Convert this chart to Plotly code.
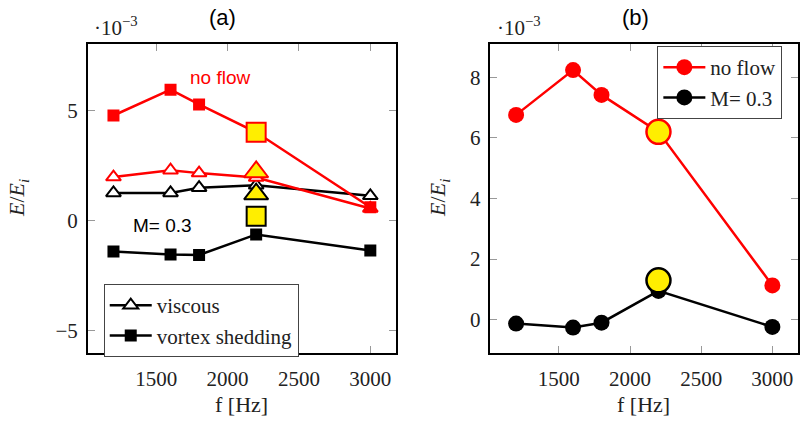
import plotly.graph_objects as go

# Frequencies of the measurements [Hz]
freqs = [1200, 1600, 1800, 2200, 3000]

# Panel (a): normalised energy split into viscous and vortex-shedding parts (x 1e-3)
noflow_vortex = [4.76, 5.93, 5.26, 4.0, 0.6]
noflow_viscous = [1.97, 2.28, 2.15, 1.95, 0.55]
m03_viscous = [1.25, 1.25, 1.49, 1.6, 1.12]
m03_vortex = [-1.4, -1.54, -1.56, -0.63, -1.36]

# Highlighted 2200 Hz values in panel (a)
hl_freq = [2200]
hl_noflow_vortex = [4.0]
hl_noflow_viscous = [2.2]
hl_m03_viscous = [1.2]
hl_m03_vortex = [0.2]

# Panel (b): total normalised energy (x 1e-3)
noflow_total = [6.76, 8.24, 7.42, 6.2, 1.13]
m03_total = [-0.13, -0.26, -0.1, 0.95, -0.24]
hl_noflow_total = [6.2]
hl_m03_total = [1.3]

xticks = [1500, 2000, 2500, 3000]
yticks_a = [-5, 0, 5]
yticks_b = [0, 2, 4, 6, 8]

RED = "#ff0000"
BLACK = "#000000"
YELLOW = "#ffee00"
SERIF = "Liberation Serif"
SANS = "Liberation Sans"

fig = go.Figure()

# ---- panel (a) ----
fig.add_trace(go.Scatter(x=freqs, y=m03_viscous, mode="lines+markers", name="viscous",
                         line=dict(color=BLACK, width=2.5),
                         marker=dict(symbol="triangle-up", size=13, color="white",
                                     line=dict(color=BLACK, width=2)),
                         xaxis="x", yaxis="y", legend="legend"))
fig.add_trace(go.Scatter(x=freqs, y=m03_vortex, mode="lines+markers", name="vortex shedding",
                         line=dict(color=BLACK, width=2.5),
                         marker=dict(symbol="square", size=12, color=BLACK),
                         xaxis="x", yaxis="y", legend="legend"))
fig.add_trace(go.Scatter(x=freqs, y=noflow_viscous, mode="lines+markers", showlegend=False,
                         line=dict(color=RED, width=2.5),
                         marker=dict(symbol="triangle-up", size=13, color="white",
                                     line=dict(color=RED, width=2)),
                         xaxis="x", yaxis="y"))
fig.add_trace(go.Scatter(x=freqs, y=noflow_vortex, mode="lines+markers", showlegend=False,
                         line=dict(color=RED, width=2.5),
                         marker=dict(symbol="square", size=12, color=RED),
                         xaxis="x", yaxis="y"))
# highlighted points
fig.add_trace(go.Scatter(x=hl_freq, y=hl_noflow_vortex, mode="markers", showlegend=False,
                         marker=dict(symbol="square", size=19, color=YELLOW,
                                     line=dict(color=RED, width=2)),
                         xaxis="x", yaxis="y"))
fig.add_trace(go.Scatter(x=hl_freq, y=hl_noflow_viscous, mode="markers", showlegend=False,
                         marker=dict(symbol="triangle-up", size=21, color=YELLOW,
                                     line=dict(color=RED, width=2)),
                         xaxis="x", yaxis="y"))
fig.add_trace(go.Scatter(x=hl_freq, y=hl_m03_viscous, mode="markers", showlegend=False,
                         marker=dict(symbol="triangle-up", size=21, color=YELLOW,
                                     line=dict(color=BLACK, width=2)),
                         xaxis="x", yaxis="y"))
fig.add_trace(go.Scatter(x=hl_freq, y=hl_m03_vortex, mode="markers", showlegend=False,
                         marker=dict(symbol="square", size=19, color=YELLOW,
                                     line=dict(color=BLACK, width=2)),
                         xaxis="x", yaxis="y"))

# ---- panel (b) ----
fig.add_trace(go.Scatter(x=freqs, y=noflow_total, mode="lines+markers", name="no flow",
                         line=dict(color=RED, width=2.5),
                         marker=dict(symbol="circle", size=16, color=RED),
                         xaxis="x2", yaxis="y2", legend="legend2"))
fig.add_trace(go.Scatter(x=freqs, y=m03_total, mode="lines+markers", name="M= 0.3",
                         line=dict(color=BLACK, width=2.5),
                         marker=dict(symbol="circle", size=16, color=BLACK),
                         xaxis="x2", yaxis="y2", legend="legend2"))
fig.add_trace(go.Scatter(x=hl_freq, y=hl_noflow_total, mode="markers", showlegend=False,
                         marker=dict(symbol="circle", size=24, color=YELLOW,
                                     line=dict(color=RED, width=2.5)),
                         xaxis="x2", yaxis="y2"))
fig.add_trace(go.Scatter(x=hl_freq, y=hl_m03_total, mode="markers", showlegend=False,
                         marker=dict(symbol="circle", size=24, color=YELLOW,
                                     line=dict(color=BLACK, width=2.5)),
                         xaxis="x2", yaxis="y2"))

W, H = 800, 424
ydom = [1 - 353 / H, 1 - 44 / H]

axis_common = dict(showline=True, linecolor=BLACK, linewidth=1.5, mirror="ticks",
                   ticks="inside", ticklen=7, tickcolor="#999999", tickwidth=1,
                   showgrid=False, zeroline=False,
                   tickfont=dict(family=SERIF, size=21, color="#222222"))

legend_common = dict(xanchor="left", yanchor="top", bgcolor="white",
                     bordercolor="#444444", borderwidth=1, itemwidth=42,
                     font=dict(family=SERIF, size=21, color="#222222"),
                     tracegroupgap=0)

fig.update_layout(
    width=W, height=H, margin=dict(l=0, r=0, t=0, b=0),
    plot_bgcolor="white", paper_bgcolor="white",
    xaxis=dict(domain=[88 / W, 397 / W], range=[1020, 3180], tickvals=xticks,
               anchor="y", ticklabelstandoff=6, **axis_common),
    yaxis=dict(domain=ydom, range=[-6, 8], tickvals=yticks_a, anchor="x",
               ticklabelstandoff=4, **axis_common),
    xaxis2=dict(domain=[491.7 / W, 1.0], range=[1020, 3180], tickvals=xticks,
                anchor="y2", ticklabelstandoff=6, **axis_common),
    yaxis2=dict(domain=ydom, range=[-1.1, 9.1], tickvals=yticks_b, anchor="x2",
                ticklabelstandoff=4, **axis_common),
    legend=dict(x=104 / W, y=1 - 284 / H, **legend_common),
    legend2=dict(x=659 / W, y=1 - 46 / H, **legend_common),
    showlegend=True,
)

annotations = [
    dict(text="(a)", x=223 / W, y=1 - 17 / H, font=dict(family=SANS, size=22, color=BLACK)),
    dict(text="(b)", x=637 / W, y=1 - 17 / H, font=dict(family=SANS, size=22, color=BLACK)),
    dict(text="·10<sup>−3</sup>", x=92 / W, y=1 - 27 / H, xanchor="left",
         font=dict(family=SERIF, size=21, color="#222222")),
    dict(text="·10<sup>−3</sup>", x=496 / W, y=1 - 27 / H, xanchor="left",
         font=dict(family=SERIF, size=21, color="#222222")),
    dict(text="no flow", x=221 / W, y=1 - 77 / H, font=dict(family=SANS, size=19, color=RED)),
    dict(text="M= 0.3", x=163 / W, y=1 - 225 / H, font=dict(family=SANS, size=19, color=BLACK)),
    dict(text="<i>E</i>/<i>E<sub>i</sub></i>", x=18 / W, y=1 - 198 / H, textangle=-90,
         font=dict(family=SERIF, size=22, color="#222222")),
    dict(text="<i>E</i>/<i>E<sub>i</sub></i>", x=440 / W, y=1 - 198 / H, textangle=-90,
         font=dict(family=SERIF, size=22, color="#222222")),
    dict(text="f [Hz]", x=242 / W, y=1 - 404 / H, font=dict(family=SERIF, size=22, color="#222222")),
    dict(text="f [Hz]", x=645 / W, y=1 - 404 / H, font=dict(family=SERIF, size=22, color="#222222")),
]
for a in annotations:
    a.update(xref="paper", yref="paper", showarrow=False,
             xanchor=a.get("xanchor", "center"), yanchor="middle")
fig.update_layout(annotations=annotations)

fig.write_html("out.html")
